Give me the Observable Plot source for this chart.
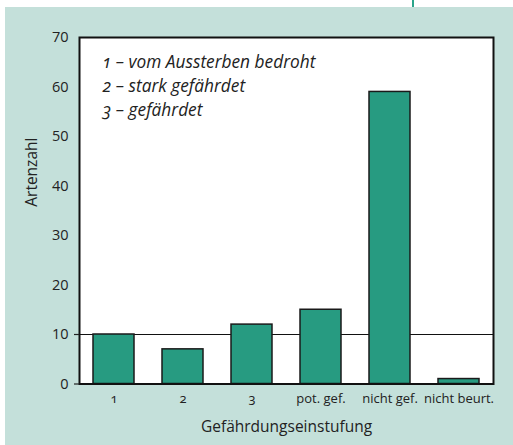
<!DOCTYPE html>
<html>
<head>
<meta charset="utf-8">
<script src="https://cdn.jsdelivr.net/npm/d3@7"></script>
<script src="https://cdn.jsdelivr.net/npm/@observablehq/plot@0.6"></script>
<style>
  html, body { margin: 0; padding: 0; background: #ffffff; }
  #wrap { position: absolute; left: 5px; top: 7px; width: 508px; height: 438px; background: #c4e0da; }
  #mark { position: absolute; left: 412px; top: 0; width: 2px; height: 7px; background: #2aa58a; }
  svg { font-family: "Open Sans", sans-serif; font-variant-numeric: oldstyle-nums; }
</style>
</head>
<body>
<div id="mark"></div>
<div id="wrap"></div>
<script>
const categories = ["1", "2", "3", "pot. gef.", "nicht gef.", "nicht beurt."];
const counts = [10, 7, 12, 15, 59, 1];
const yTicks = [0, 10, 20, 30, 40, 50, 60, 70];
const legendLines = ["1 – vom Aussterben bedroht", "2 – stark gefährdet", "3 – gefährdet"];
const xLabel = "Gefährdungseinstufung";
const yLabel = "Artenzahl";

const data = categories.map((c, i) => ({cat: c, n: counts[i]}));

const chart = Plot.plot({
  width: 508,
  height: 438,
  marginLeft: 74,
  marginRight: 20,
  marginTop: 30,
  marginBottom: 61.5,
  style: {background: "transparent", fontFamily: "'Open Sans', sans-serif", color: "#222"},
  x: {domain: categories, paddingInner: 0.41, paddingOuter: 0.2, label: null},
  y: {domain: [0, 70], label: null},
  marks: [
    Plot.frame({fill: "white"}),
    Plot.ruleY([10], {stroke: "#111", strokeWidth: 1}),
    Plot.barY(data, {x: "cat", y: "n", fill: "#279b81", stroke: "#1a1a1a", strokeWidth: 1.5}),
    Plot.frame({stroke: "#111", strokeWidth: 2}),
    Plot.axisY([0, 10], {tickSize: 5, text: null, label: null, strokeWidth: 1.2}),
    Plot.axisY(yTicks, {tickSize: 0, tickPadding: 11, fontSize: 14.5, label: null}),
    Plot.axisX({tickSize: 0, tickPadding: 10, fontSize: 13, label: null}),
    Plot.text([yLabel], {frameAnchor: "left", rotate: -90, dx: -47, dy: -4, fontSize: 15.5, fill: "#222"}),
    Plot.text([xLabel], {frameAnchor: "bottom", dy: 48, fontSize: 15.5, fill: "#222"}),
    Plot.text([legendLines.join("\n")], {frameAnchor: "top-left", dx: 23, dy: 14, lineHeight: 1.38, fontStyle: "italic", fontSize: 17.3, fill: "#222", textAnchor: "start"})
  ]
});
document.getElementById("wrap").appendChild(chart);
</script>
</body>
</html>
